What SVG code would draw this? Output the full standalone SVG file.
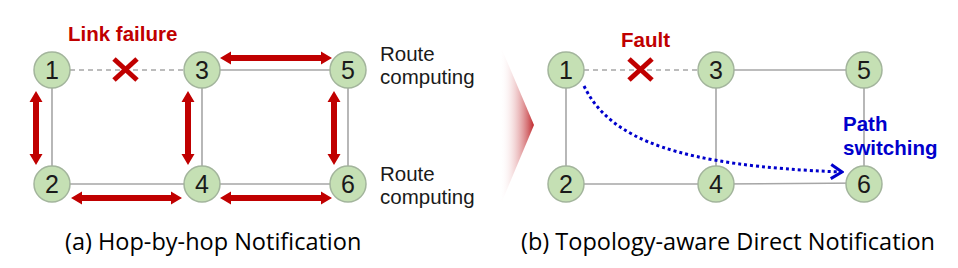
<svg xmlns="http://www.w3.org/2000/svg" width="958" height="268" viewBox="0 0 958 268">
<style>
.edge{stroke:#a6a6a6;stroke-width:1.6;fill:none}
.dash{stroke-dasharray:5 4}
.node circle{fill:#c5e0b4;stroke:#a3b59c;stroke-width:1.5}
.node text{font-family:"Liberation Sans",Arial,sans-serif;font-size:25px;fill:#1a1a1a;text-anchor:middle}
.rarrow{fill:#c00000}
.xmark{stroke:#c00000;stroke-width:5;stroke-linecap:butt}
.lbl{font-family:"Liberation Sans",Arial,sans-serif;font-size:20.5px;fill:#1a1a1a}
.bold{font-weight:bold}
.red{fill:#c00000}
.blue{fill:#0000cc}
.cap{font-family:"Open Sans","Noto Sans",sans-serif;font-size:23.5px;fill:#000}
.dotted{stroke:#0000cc;stroke-width:3;stroke-dasharray:3 3;fill:none}
</style>
<defs>
<linearGradient id="tri" x1="0" y1="0" x2="1" y2="0">
<stop offset="0" stop-color="#ffffff" stop-opacity="0"/>
<stop offset="1" stop-color="#c0282d"/>
</linearGradient>
<marker id="chev" markerUnits="userSpaceOnUse" markerWidth="16" markerHeight="18" viewBox="-14 -9 16 18" refX="0" refY="0" orient="auto">
<polyline points="-11,-7 0,0 -11,7" fill="none" stroke="#0000cc" stroke-width="3"/>
</marker>
</defs>

<g id="connectors">
<!-- panel a edges -->
<line class="edge dash" x1="52" y1="70" x2="202" y2="70"/>
<line class="edge" x1="52" y1="70" x2="52" y2="184"/>
<line class="edge" x1="52" y1="184" x2="202" y2="184"/>
<line class="edge" x1="202" y1="70" x2="202" y2="184"/>
<line class="edge" x1="202" y1="70" x2="348" y2="70"/>
<line class="edge" x1="348" y1="70" x2="348" y2="184"/>
<line class="edge" x1="202" y1="184" x2="348" y2="184"/>
<!-- panel b edges -->
<line class="edge dash" x1="566" y1="70" x2="716" y2="70"/>
<line class="edge" x1="566" y1="70" x2="566" y2="184"/>
<line class="edge" x1="566" y1="184" x2="716" y2="184"/>
<line class="edge" x1="716" y1="70" x2="716" y2="184"/>
<line class="edge" x1="716" y1="70" x2="864" y2="70"/>
<line class="edge" x1="864" y1="70" x2="864" y2="184"/>
<line class="edge" x1="716" y1="184" x2="864" y2="183"/>
<!-- red notification arrows -->
<polygon class="rarrow" points="220,58 231,51.5 231,55 321,55 321,51.5 332,58 321,64.5 321,61 231,61 231,64.5"/>
<polygon class="rarrow" points="71,198 82,191.5 82,195 171,195 171,191.5 182,198 171,204.5 171,201 82,201 82,204.5"/>
<polygon class="rarrow" points="220,198 231,191.5 231,195 321,195 321,191.5 332,198 321,204.5 321,201 231,201 231,204.5"/>
<polygon class="rarrow" points="36,91 42.5,102 39,102 39,154 42.5,154 36,165 29.5,154 33,154 33,102 29.5,102"/>
<polygon class="rarrow" points="188,91 194.5,102 191,102 191,154 194.5,154 188,165 181.5,154 185,154 185,102 181.5,102"/>
<polygon class="rarrow" points="334,91 340.5,102 337,102 337,154 340.5,154 334,165 327.5,154 331,154 331,102 327.5,102"/>
<!-- blue path switching -->
<path class="dotted" d="M584,86 C610,140 680,166 842,172" marker-end="url(#chev)"/>
</g>

<g id="faults">
<line class="xmark" x1="114" y1="59" x2="137" y2="80"/>
<line class="xmark" x1="137" y1="59" x2="114" y2="80"/>
<line class="xmark" x1="629" y1="59" x2="652" y2="80"/>
<line class="xmark" x1="652" y1="59" x2="629" y2="80"/>
</g>

<g id="transition">
<polygon points="500,45 534,125 500,206" fill="url(#tri)"/>
</g>

<g id="a-n1" class="node"><circle cx="52" cy="70" r="18"/><text x="52" y="78.5">1</text></g>
<g id="a-n2" class="node"><circle cx="52" cy="184" r="18"/><text x="52" y="192.5">2</text></g>
<g id="a-n3" class="node"><circle cx="202" cy="70" r="18"/><text x="202" y="78.5">3</text></g>
<g id="a-n4" class="node"><circle cx="202" cy="184" r="18"/><text x="202" y="192.5">4</text></g>
<g id="a-n5" class="node"><circle cx="348" cy="70" r="18"/><text x="348" y="78.5">5</text></g>
<g id="a-n6" class="node"><circle cx="348" cy="184" r="18"/><text x="348" y="192.5">6</text></g>

<g id="b-n1" class="node"><circle cx="566" cy="70" r="18"/><text x="566" y="78.5">1</text></g>
<g id="b-n2" class="node"><circle cx="566" cy="184" r="18"/><text x="566" y="192.5">2</text></g>
<g id="b-n3" class="node"><circle cx="716" cy="70" r="18"/><text x="716" y="78.5">3</text></g>
<g id="b-n4" class="node"><circle cx="716" cy="184" r="18"/><text x="716" y="192.5">4</text></g>
<g id="b-n5" class="node"><circle cx="864" cy="70" r="18"/><text x="864" y="78.5">5</text></g>
<g id="b-n6" class="node"><circle cx="864" cy="184" r="18"/><text x="864" y="192.5">6</text></g>

<g id="labels">
<text class="lbl bold red" x="68" y="40.5">Link failure</text>
<text class="lbl bold red" x="621" y="47">Fault</text>
<text class="lbl" x="380" y="61">Route</text>
<text class="lbl" x="380" y="84">computing</text>
<text class="lbl" x="380" y="181">Route</text>
<text class="lbl" x="380" y="204">computing</text>
<text class="lbl bold blue" x="843" y="131">Path</text>
<text class="lbl bold blue" x="843" y="155">switching</text>
<text class="cap" x="65" y="250">(a) Hop-by-hop Notification</text>
<text class="cap" x="521" y="250">(b) Topology-aware Direct Notification</text>
</g>
</svg>
